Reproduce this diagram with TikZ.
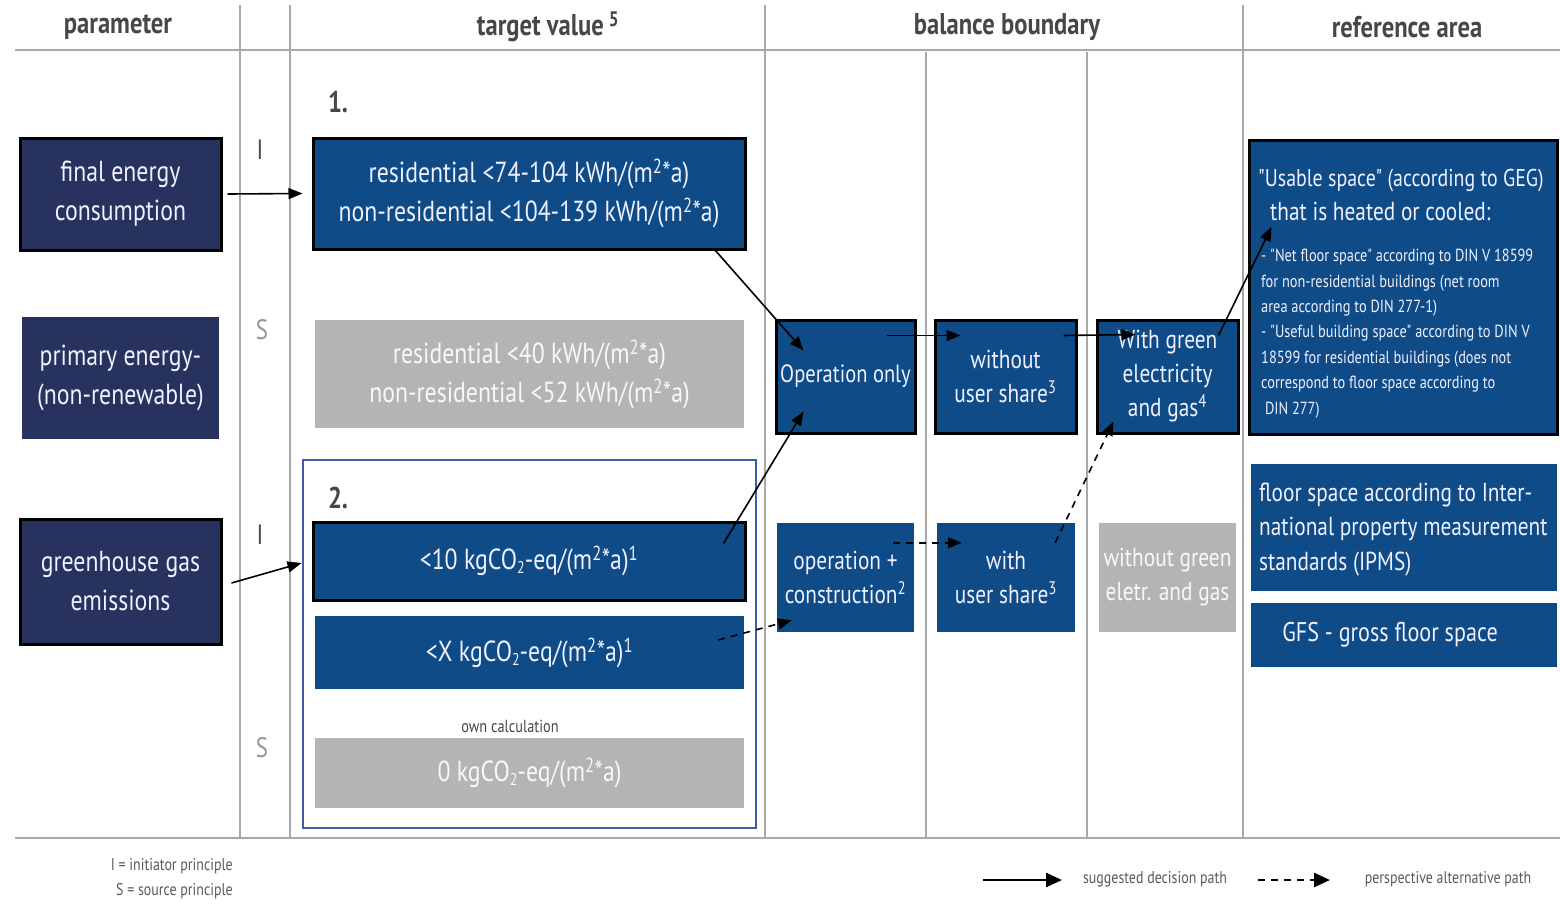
\documentclass[tikz,border=0pt]{standalone}
\usepackage{fontspec}
\setmainfont{PT Sans}[FakeStretch=0.82, Ligatures=TeXOff]
\usetikzlibrary{arrows.meta}
\definecolor{navy}{HTML}{27335E}
\definecolor{mblue}{HTML}{0F4C87}
\definecolor{gbox}{HTML}{B4B4B4}
\definecolor{hdr}{HTML}{474747}
\definecolor{gline}{HTML}{A8A8A8}
\definecolor{frameblue}{HTML}{3F5DA8}
\newcommand{\mysub}[1]{\raisebox{-0.3ex}{\fontsize{17}{17}\selectfont #1}}
\newcommand{\mysup}[1]{\textsuperscript{#1}}
\begin{document}
\begin{tikzpicture}[x=1pt,y=-1pt,
  bx/.style={rectangle, inner sep=0pt, align=center, text=white!94!blue, font=\fontsize{29}{39}\selectfont},
  bluebox/.style={bx, fill=mblue},
  greybox/.style={bx, fill=gbox, text=white!90!gbox},
  blk/.style={draw=black, line width=3pt},
  midtext/.style={font=\fontsize{26}{34}\selectfont},
  arr/.style={-{Triangle[length=14pt,width=11pt]}, line width=1.6pt},
  darr/.style={arr, dash pattern=on 7pt off 6pt},
  gridline/.style={draw=gline, line width=1.5pt},
  hdrtext/.style={font=\bfseries\fontsize{30}{36}\selectfont, text=hdr},
  small/.style={font=\fontsize{17.5}{25.4}\selectfont},
  legend/.style={font=\fontsize{17}{25}\selectfont, text=hdr!90!white},
  wtext/.style={inner sep=0pt, text=white!94!blue},
]
\useasboundingbox (0,0) rectangle (1560,903);
\fill[white] (0,0) rectangle (1560,903);

% grid
\draw[gridline] (15,50) -- (1560,50);
\draw[gridline, line width=2.5pt] (15,838) -- (1560,838);
\foreach \xx in {240,290,765,1243} \draw[gridline] (\xx,5) -- (\xx,838);
\foreach \xx in {926,1087} \draw[gridline] (\xx,52) -- (\xx,838);

% headers
\node[hdrtext] (h1) at (118,27) {parameter};
\node[hdrtext] (h2) at (548,27) {target value\,\mysup{5}};
\node[hdrtext] (h3) at (1007,27) {balance boundary};
\node[hdrtext] (h4) at (1407,27) {reference area};

% I / S labels
\node[font=\fontsize{28}{30}\selectfont, text=hdr] (i1) at (260,150) {I};
\node[font=\fontsize{28}{30}\selectfont, text=gline!90!black] (s1) at (262,330) {S};
\node[font=\fontsize{28}{30}\selectfont, text=hdr] (i2) at (260,535) {I};
\node[font=\fontsize{28}{30}\selectfont, text=gline!90!black] (s2) at (262,748) {S};

% parameter column
\node[bx, fill=navy, blk, minimum width=201, minimum height=112] (fec) at (120.5,194) {final energy\\consumption};
\node[bx, fill=navy, minimum width=197, minimum height=122] (pe) at (120.5,378) {primary energy-\\(non-renewable)};
\node[bx, fill=navy, blk, minimum width=201, minimum height=125] (ghg) at (120.5,581.5) {greenhouse gas\\emissions};

% target values
\node[font=\bfseries\fontsize{30}{32}\selectfont, text=hdr] (n1) at (338,102) {1.};
\node[bluebox, blk, minimum width=432, minimum height=111] (res) at (529,193.5)
  {residential <74-104 kWh/(m\mysup{2}*a)\\non-residential <104-139 kWh/(m\mysup{2}*a)};
\node[greybox, minimum width=429, minimum height=108] (grey1) at (529.5,374)
  {residential <40 kWh/(m\mysup{2}*a)\\non-residential <52 kWh/(m\mysup{2}*a)};
\node[draw=frameblue, line width=2pt, inner sep=0pt, minimum width=453, minimum height=368] (frame2) at (529.5,644) {};
\node[font=\bfseries\fontsize{30}{32}\selectfont, text=hdr] (n2) at (338,498) {2.};
\node[bluebox, blk, minimum width=432, minimum height=78] (ten) at (529,561)
  {<10 kgCO\mysub{2}-eq/(m\mysup{2}*a)\mysup{1}};
\node[bluebox, minimum width=429, minimum height=73] (xbox) at (529.5,652.5)
  {<X kgCO\mysub{2}-eq/(m\mysup{2}*a)\mysup{1}};
\node[small, text=hdr] (own) at (510,726) {own calculation};
\node[greybox, minimum width=429, minimum height=70] (zero) at (529.5,773)
  {0 kgCO\mysub{2}-eq/(m\mysup{2}*a)};

% balance boundary
\node[bluebox, blk, font=\fontsize{25}{34}\selectfont, minimum width=139, minimum height=113] (op) at (845.5,376.5) {Operation only};
\node[bluebox, blk, midtext, minimum width=141, minimum height=113] (wo) at (1005.5,376.5) {without\\user share\mysup{3}};
\node[bluebox, blk, midtext, minimum width=141, minimum height=113] (wg) at (1167.5,376.5) {With green\\electricity\\and gas\mysup{4}};
\node[bluebox, midtext, minimum width=137, minimum height=109] (opc) at (845.5,577.5) {operation +\\construction\mysup{2}};
\node[bluebox, midtext, minimum width=138, minimum height=109] (wu) at (1006,577.5) {with\\user share\mysup{3}};
\node[greybox, midtext, minimum width=137, minimum height=109] (wog) at (1167.5,577.5) {without green\\eletr. and gas};

% reference area
\node[bluebox, blk, minimum width=308, minimum height=294] (usable) at (1403,287) {};
\node[wtext, anchor=base west, font=\fontsize{24.3}{34}\selectfont] (ut1) at (1258,186) {"Usable space" (according to GEG)};
\node[wtext, anchor=base west, font=\fontsize{26}{34}\selectfont] (ut2) at (1270,220) {that is heated or cooled:};
\node[wtext, anchor=north west, align=left, small] (ubody) at (1261,249)
  {- "Net floor space" according to DIN V 18599\\
   for non-residential buildings (net room\\
   area according to DIN 277-1)\\
   - "Useful building space" according to DIN V\\
   18599 for residential buildings (does not\\
   correspond to floor space according to\\
   \ DIN 277)};
\node[bluebox, minimum width=306, minimum height=127] (ipms) at (1404,527.5) {};
\node[wtext, anchor=west, align=left, font=\fontsize{26}{34.5}\selectfont] (ipmst) at (1259,529.5)
  {floor space according to Inter-\\national property measurement\\standards (IPMS)};
\node[bluebox, minimum width=306, minimum height=64, font=\fontsize{27}{34}\selectfont] (gfs) at (1404,635) {GFS - gross floor space\hspace{28pt}};

% connectors
\draw[arr] ([xshift=5pt]fec.east) -- ([xshift=-9pt]res.west);
\draw[arr] ([shift={(-32pt,1pt)}]res.south east) -- ([shift={(29pt,-32pt)}]op.north west);
\draw[arr] ([shift={(-23pt,-23pt)}]ten.north east) -- ([shift={(29pt,23pt)}]op.south west);
\draw[arr] ([shift={(9pt,-1.5pt)}]ghg.east) -- ([shift={(-10pt,-2pt)}]ten.west);
\draw[arr] ([shift={(-30pt,-17pt)}]op.north east) -- ([shift={(27pt,-17pt)}]wo.north west);
\draw[arr] ([shift={(-14pt,-17pt)}]wo.north east) -- ([shift={(40pt,-16pt)}]wg.north west);
\draw[arr] ([shift={(-21pt,-17pt)}]wg.north east) -- ([shift={(24pt,60pt)}]usable.west);
\draw[darr] ([shift={(-26pt,12.5pt)}]xbox.east) -- ([shift={(15pt,12pt)}]opc.south west);
\draw[darr] ([shift={(-21pt,-20pt)}]opc.north east) -- ([shift={(25pt,-20pt)}]wu.north west);
\draw[darr] ([shift={(-20pt,-20pt)}]wu.north east) -- ([shift={(18pt,13pt)}]wg.south west);

% legend
\node[legend, anchor=east, align=right, inner sep=0pt] (lgis) at (233,878.5) {I = initiator principle\\S = source principle};
\coordinate (la1) at (983,880);
\coordinate (la2) at (1062,880);
\coordinate (lb1) at (1258,880);
\coordinate (lb2) at (1330,880);
\draw[-{Triangle[length=16pt,width=14pt]}, line width=2.6pt] (la1) -- (la2);
\draw[-{Triangle[length=16pt,width=14pt]}, line width=2.6pt, dash pattern=on 7pt off 6pt] (lb1) -- (lb2);
\node[legend] (lgs) at (1155,879) {suggested decision path};
\node[legend] (lgp) at (1448,879) {perspective alternative path};
\end{tikzpicture}
\end{document}
